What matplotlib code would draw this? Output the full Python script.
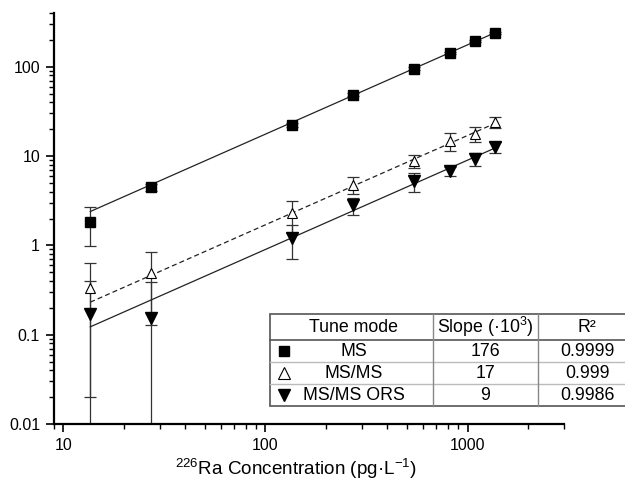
import matplotlib
matplotlib.use("Agg")
import matplotlib.pyplot as plt
import matplotlib.ticker as ticker
from matplotlib.lines import Line2D
from matplotlib.patches import Rectangle
import numpy as np

plt.rcParams['font.family'] = ['Liberation Sans', 'DejaVu Sans']
plt.rcParams['mathtext.fontset'] = 'custom'
plt.rcParams['mathtext.rm'] = 'Liberation Sans'
plt.rcParams['mathtext.it'] = 'Liberation Sans:italic'

# data
conc = [13.6, 27.2, 136, 272, 544, 816, 1088, 1360]
ms = [1.85, 4.45, 22.5, 48.7, 95, 143, 195, 240]
ms_err = [0.86, 0.4, 1.2, 2.0, 4, 5, 6, 8]
msms = [0.33, 0.49, 2.28, 4.8, 8.8, 14.7, 17.6, 24]
msms_err = [0.31, 0.36, 0.9, 1.0, 1.5, 3.2, 3.3, 3.5]
ors = [0.17, 0.155, 1.2, 2.8, 5.2, 6.8, 9.3, 12.6]
ors_err = [0.23, 0.235, 0.5, 0.6, 1.2, 0.8, 1.6, 1.9]

modes = ['MS', 'MS/MS', 'MS/MS ORS']
slopes = [176, 17, 9]          # x 10^-3
r2 = ['0.9999', '0.999', '0.9986']

W, H = 625, 487
fig = plt.figure(figsize=(W / 100, H / 100), dpi=100)
ax = fig.add_axes([54 / W, 1 - 424 / H, 510 / W, 411 / H])

ecol = '#333333'
ax.errorbar(conc, ms, yerr=ms_err, fmt='none', ecolor=ecol, elinewidth=0.9, capsize=4, capthick=0.9)
ax.errorbar(conc, msms, yerr=msms_err, fmt='none', ecolor=ecol, elinewidth=0.9, capsize=4, capthick=0.9)
ax.errorbar(conc, ors, yerr=ors_err, fmt='none', ecolor=ecol, elinewidth=0.9, capsize=4, capthick=0.9)

xfit = np.array([conc[0], conc[-1]])
ax.plot(xfit, slopes[0] / 1000 * xfit, color='#222222', lw=0.9)
ax.plot(xfit, slopes[1] / 1000 * xfit, color='#222222', lw=0.9, ls=(0, (4, 2.5)))
ax.plot(xfit, slopes[2] / 1000 * xfit, color='#222222', lw=0.9)

ax.plot(conc, ms, 's', color='black', ms=6.5, ls='none')
ax.plot(conc, msms, '^', mfc='white', mec='black', mew=0.8, ms=7.5, ls='none')
ax.plot(conc, ors, 'v', color='black', ms=8, ls='none')

ax.set_xscale('log')
ax.set_yscale('log')
ax.set_xlim(9, 3000)
ax.set_ylim(0.01, 400)

fmt = ticker.FuncFormatter(lambda v, p: f'{v:g}')
ax.xaxis.set_major_formatter(fmt)
ax.yaxis.set_major_formatter(fmt)
ax.xaxis.set_minor_formatter(ticker.NullFormatter())
ax.yaxis.set_minor_formatter(ticker.NullFormatter())
ax.tick_params(which='major', direction='out', length=6, width=1.2, labelsize=11.5, pad=4)
ax.tick_params(which='minor', direction='out', length=3.5, width=1.0)

for s in ['top', 'right']:
    ax.spines[s].set_visible(False)
for s in ['left', 'bottom']:
    ax.spines[s].set_linewidth(1.6)

ax.set_xlabel(r'$^{226}$Ra Concentration (pg·L$^{-1}$)', fontsize=13.6)
ax.xaxis.set_label_coords((296 - 54) / 510, -(457 - 424) / 411)


# table drawn in figure pixels
def fx(px):
    return px / W


def fy(py):
    return 1 - py / H


tf = fig.transFigure
x0, xc1, xc2, x1 = 270, 433, 538, 640
rows = [314, 340, 362, 384, 406]

fig.add_artist(Rectangle((fx(x0), fy(rows[-1])), fx(x1) - fx(x0), fy(rows[0]) - fy(rows[-1]),
                         transform=tf, facecolor='white', edgecolor='#555555', lw=1.2, zorder=5))
for yy in rows[2:-1]:
    fig.add_artist(Line2D([fx(x0), fx(x1)], [fy(yy), fy(yy)], transform=tf, color='#bbbbbb', lw=1.0, zorder=6))
fig.add_artist(Line2D([fx(x0), fx(x1)], [fy(rows[1]), fy(rows[1])], transform=tf, color='#555555', lw=1.2, zorder=6))
for xx in [xc1, xc2]:
    fig.add_artist(Line2D([fx(xx), fx(xx)], [fy(rows[0]), fy(rows[-1])], transform=tf, color='#888888', lw=1.0, zorder=6))

cx = [(x0 + xc1) / 2 + 2, (xc1 + xc2) / 2, (xc2 + 636) / 2]
fs = 12.8
hy = (rows[0] + rows[1]) / 2
fig.text(fx(cx[0]), fy(hy), 'Tune mode', ha='center', va='center', fontsize=fs, zorder=7)
fig.text(fx(cx[1]), fy(hy), r'Slope (·10$^3$)', ha='center', va='center', fontsize=fs, zorder=7)
fig.text(fx(cx[2]), fy(hy), 'R²', ha='center', va='center', fontsize=fs, zorder=7)

mstyles = [dict(marker='s', color='black', ms=6.5),
           dict(marker='^', mfc='white', mec='black', mew=0.8, ms=8),
           dict(marker='v', color='black', ms=8)]
for i in range(3):
    ry = (rows[i + 1] + rows[i + 2]) / 2
    fig.add_artist(Line2D([fx(284)], [fy(ry)], transform=tf, ls='none', zorder=7, **mstyles[i]))
    fig.text(fx(cx[0]), fy(ry), modes[i], ha='center', va='center', fontsize=fs, zorder=7)
    fig.text(fx(cx[1]), fy(ry), str(slopes[i]), ha='center', va='center', fontsize=fs, zorder=7)
    fig.text(fx(cx[2]), fy(ry), r2[i], ha='center', va='center', fontsize=fs, zorder=7)

fig.savefig('out.png', dpi=100)
